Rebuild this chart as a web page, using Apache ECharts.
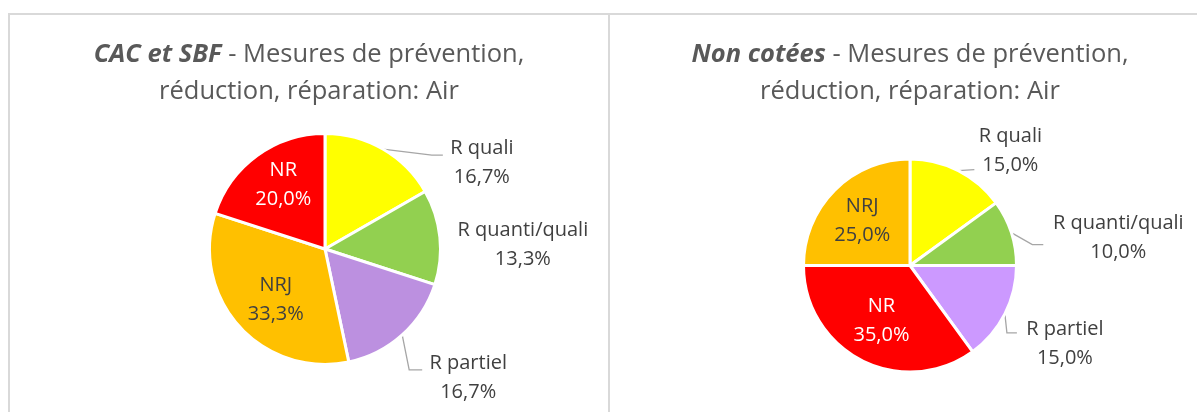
<!DOCTYPE html>
<html>
<head>
<meta charset="utf-8">
<script src="https://cdn.jsdelivr.net/npm/echarts@6/dist/echarts.min.js"></script>
<style>
  html, body { margin: 0; padding: 0; background: #ffffff; }
  #chart { width: 1197px; height: 412px; }
</style>
</head>
<body>
<div id="chart"></div>
<script>
// ---- Data ----
const leftTitleBold = 'CAC et SBF';
const rightTitleBold = 'Non cotées';
const titleRest1 = ' - Mesures de prévention,';
const titleRest2 = 'réduction, réparation: Air';

const leftCategories = ['R quali', 'R quanti/quali', 'R partiel', 'NRJ', 'NR'];
const leftValues = [16.7, 13.3, 16.7, 33.3, 20.0];

const rightCategories = ['R quali', 'R quanti/quali', 'R partiel', 'NR', 'NRJ'];
const rightValues = [15.0, 10.0, 15.0, 35.0, 25.0];

// ---- Styles ----
const colorMap = {
  'R quali': '#FFFF00',
  'R quanti/quali': '#92D050',
  'NRJ': '#FFC000',
  'NR': '#FF0000'
};
const leftPurple = '#BC90E0';
const rightPurple = '#CC99FF';

const FONT = '"Open Sans"';
const LABEL_COLOR = '#404040';

// label placement styles (offsets relative to the slice edge point)
const leftPlacement = [
  { line: [[49, 6], [60, 6]], label: [99, 14] },
  { line: null, label: [83, 8] },
  { line: [[7, 35], [20, 35]], label: [66, 43] },
  { inside: [-4, 10], color: LABEL_COLOR },
  { inside: [-6, -15], color: '#ffffff' }
];
const rightPlacement = [
  { line: [[16, -1]], label: [52, -20] },
  { line: [[21, 12], [32, 12]], label: [107, 5] },
  { line: [[2, 19], [12, 19]], label: [60, 30] },
  { inside: [-3, 5], color: '#ffffff' },
  { inside: [-8, -5], color: LABEL_COLOR }
];

function fmt(v) { return v.toFixed(1).replace('.', ',') + '%'; }

function edgePoint(values, idx, center, radius) {
  const total = values.reduce((a, b) => a + b, 0);
  let cum = 0;
  for (let i = 0; i < idx; i++) cum += values[i];
  const a = (cum + values[idx] / 2) / total * Math.PI * 2;
  return [center[0] + radius * Math.sin(a), center[1] - radius * Math.cos(a)];
}

function buildSeries(categories, values, placement, purple, center, radius) {
  const data = categories.map((c, i) => {
    const pl = placement[i];
    const item = {
      name: c,
      value: values[i],
      itemStyle: { color: c === 'R partiel' ? purple : colorMap[c] }
    };
    if (pl.inside) {
      item.label = { position: 'inside', color: pl.color };
      item.labelLine = { show: false };
    } else {
      item.label = { position: 'outside' };
      item.labelLine = { show: true, length: 5, length2: 5 };
    }
    return item;
  });
  return {
    type: 'pie',
    center: center,
    radius: radius,
    startAngle: 90,
    clockwise: true,
    avoidLabelOverlap: false,
    animation: false,
    silent: true,
    itemStyle: { borderColor: '#ffffff', borderWidth: 3 },
    label: {
      show: true,
      fontFamily: FONT,
      fontSize: 20,
      lineHeight: 29,
      color: LABEL_COLOR,
      align: 'center',
      formatter: p => p.name + '\n' + fmt(p.value)
    },
    labelLine: {
      lineStyle: { color: '#A6A6A6', width: 1.3 },
      smooth: false
    },
    labelLayout: function (p) {
      const pl = placement[p.dataIndex];
      if (pl.inside) {
        return { dx: pl.inside[0], dy: pl.inside[1] };
      }
      const p0 = (p.labelLinePoints && p.labelLinePoints[0])
        ? [p.labelLinePoints[0][0], p.labelLinePoints[0][1]]
        : edgePoint(values, p.dataIndex, center, radius);
      const pts = [p0];
      if (pl.line) {
        pl.line.forEach(o => pts.push([p0[0] + o[0], p0[1] + o[1]]));
      } else {
        pts.push([p0[0], p0[1]]);
      }
      return {
        x: p0[0] + pl.label[0],
        y: p0[1] + pl.label[1],
        align: 'center',
        verticalAlign: 'middle',
        labelLinePoints: pts
      };
    },
    data: data
  };
}

const chart = echarts.init(document.getElementById('chart'), null, { renderer: 'canvas' });

function titleOpt(bold, cx) {
  return {
    text: '{b|' + bold + '}{n|' + titleRest1 + '}\n{n|' + titleRest2 + '}',
    left: cx,
    top: 36,
    textAlign: 'center',
    padding: 0,
    textStyle: {
      fontFamily: FONT,
      fontSize: 25.5,
      color: '#595959',
      lineHeight: 37,
      rich: {
        b: { fontFamily: FONT, fontSize: 25.5, fontStyle: 'italic', fontWeight: 'bold', color: '#595959', lineHeight: 37, align: 'center' },
        n: { fontFamily: FONT, fontSize: 25.5, fontWeight: 'normal', color: '#595959', lineHeight: 37, align: 'center' }
      }
    }
  };
}

chart.setOption({
  backgroundColor: '#ffffff',
  animation: false,
  title: [titleOpt(leftTitleBold, 309), titleOpt(rightTitleBold, 910)],
  graphic: [
    { type: 'rect', silent: true, shape: { x: 9, y: 14, width: 600, height: 430 },
      style: { fill: 'none', stroke: '#D9D9D9', lineWidth: 2 } },
    { type: 'rect', silent: true, shape: { x: 609, y: 14, width: 620, height: 430 },
      style: { fill: 'none', stroke: '#D9D9D9', lineWidth: 2 } }
  ],
  series: [
    buildSeries(leftCategories, leftValues, leftPlacement, leftPurple, [325, 249], 115.5),
    buildSeries(rightCategories, rightValues, rightPlacement, rightPurple, [910, 265.5], 106.5)
  ]
});
</script>
</body>
</html>
